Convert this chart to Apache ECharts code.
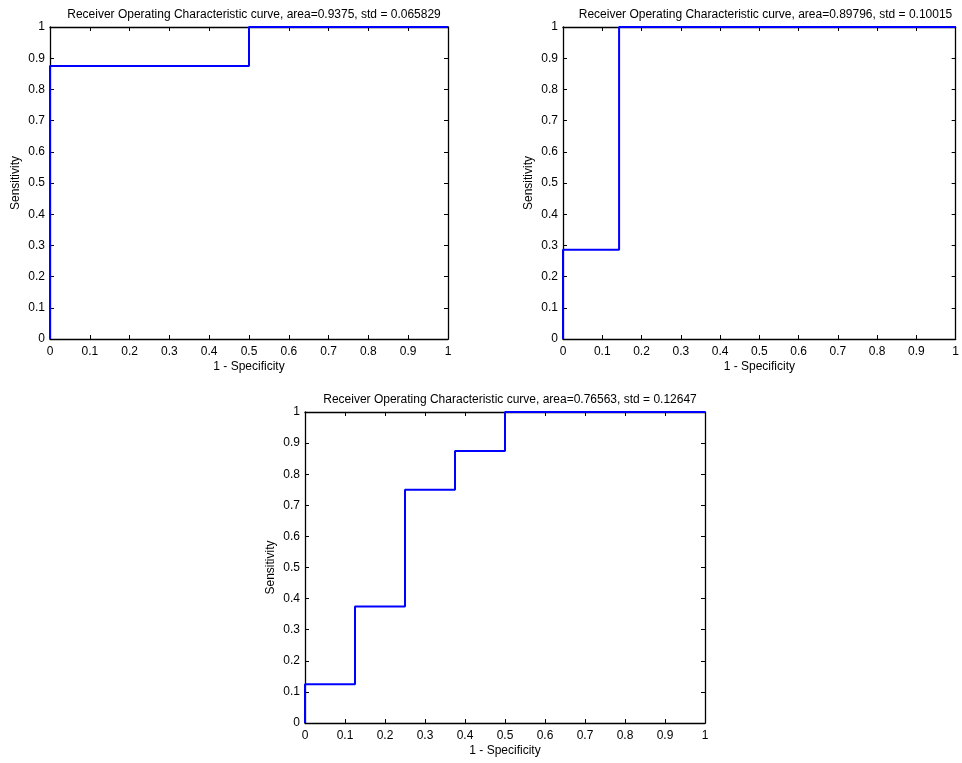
<!DOCTYPE html>
<html><head><meta charset="utf-8">
<script src="https://cdn.jsdelivr.net/npm/echarts@6/dist/echarts.min.js"></script>
<style>html,body{margin:0;padding:0;background:#fff}#c{width:962px;height:763px}</style>
</head><body><div id="c"></div>
<script>
const titles = [
  "Receiver Operating Characteristic curve, area=0.9375, std = 0.065829",
  "Receiver Operating Characteristic curve, area=0.89796, std = 0.10015",
  "Receiver Operating Characteristic curve, area=0.76563, std = 0.12647"
];
const xName = "1 - Specificity";
const yName = "Sensitivity";
const fpr1 = [0, 0, 0.5, 0.5, 1];
const tpr1 = [0, 0.875, 0.875, 1, 1];
const fpr2 = [0, 0, 0.142857, 0.142857, 1];
const tpr2 = [0, 0.285714, 0.285714, 1, 1];
const fpr3 = [0, 0, 0.125, 0.125, 0.25, 0.25, 0.375, 0.375, 0.5, 0.5, 1];
const tpr3 = [0, 0.125, 0.125, 0.375, 0.375, 0.75, 0.75, 0.875, 0.875, 1, 1];

const font = "'Liberation Sans', Arial, sans-serif";
const fs = 12;
const grids = [
  {left: 50, top: 27, width: 398, height: 312},
  {left: 563, top: 27, width: 395, height: 312},
  {left: 305, top: 412, width: 400, height: 311}
];
const pairs = [[fpr1, tpr1], [fpr2, tpr2], [fpr3, tpr3]];

const axisLine = {show: true, onZero: false, lineStyle: {color: '#000', width: 1.3}};
const tick = {show: true, inside: true, length: 4, lineStyle: {color: '#000'}};
const xAxes = [], yAxes = [], series = [], title = [];
grids.forEach((g, i) => {
  title.push({text: titles[i], left: g.left + g.width / 2, top: g.top - 23, textAlign: 'center',
    textStyle: {fontFamily: font, fontSize: fs, fontWeight: 'normal', color: '#000'}});
  xAxes.push({gridIndex: i, type: 'value', min: 0, max: 1, interval: 0.1, position: 'bottom',
    name: xName, nameLocation: 'middle', nameGap: 22,
    nameTextStyle: {fontFamily: font, fontSize: fs, color: '#000'},
    axisLine, axisTick: tick, splitLine: {show: false},
    axisLabel: {fontFamily: font, fontSize: fs, color: '#000', margin: 7, showMaxLabel: true, showMinLabel: true}});
  xAxes.push({gridIndex: i, type: 'value', min: 0, max: 1, interval: 0.1, position: 'top',
    axisLine, axisTick: tick, splitLine: {show: false}, axisLabel: {show: false}});
  yAxes.push({gridIndex: i, type: 'value', min: 0, max: 1, interval: 0.1, position: 'left',
    name: yName, nameLocation: 'middle', nameGap: 28, nameRotate: 90,
    nameTextStyle: {fontFamily: font, fontSize: fs, color: '#000'},
    axisLine, axisTick: tick, splitLine: {show: false},
    axisLabel: {fontFamily: font, fontSize: fs, color: '#000', margin: 5}});
  yAxes.push({gridIndex: i, type: 'value', min: 0, max: 1, interval: 0.1, position: 'right',
    axisLine, axisTick: tick, splitLine: {show: false}, axisLabel: {show: false}});
  const [xs, ys] = pairs[i];
  series.push({type: 'line', xAxisIndex: 2 * i, yAxisIndex: 2 * i, clip: false,
    data: xs.map((x, k) => [x, ys[k]]), symbol: 'none', animation: false,
    lineStyle: {color: '#0000ff', width: 2}});
});

const chart = echarts.init(document.getElementById('c'));
chart.setOption({animation: false, backgroundColor: '#fff', title, grid: grids, xAxis: xAxes, yAxis: yAxes, series});
</script></body></html>
